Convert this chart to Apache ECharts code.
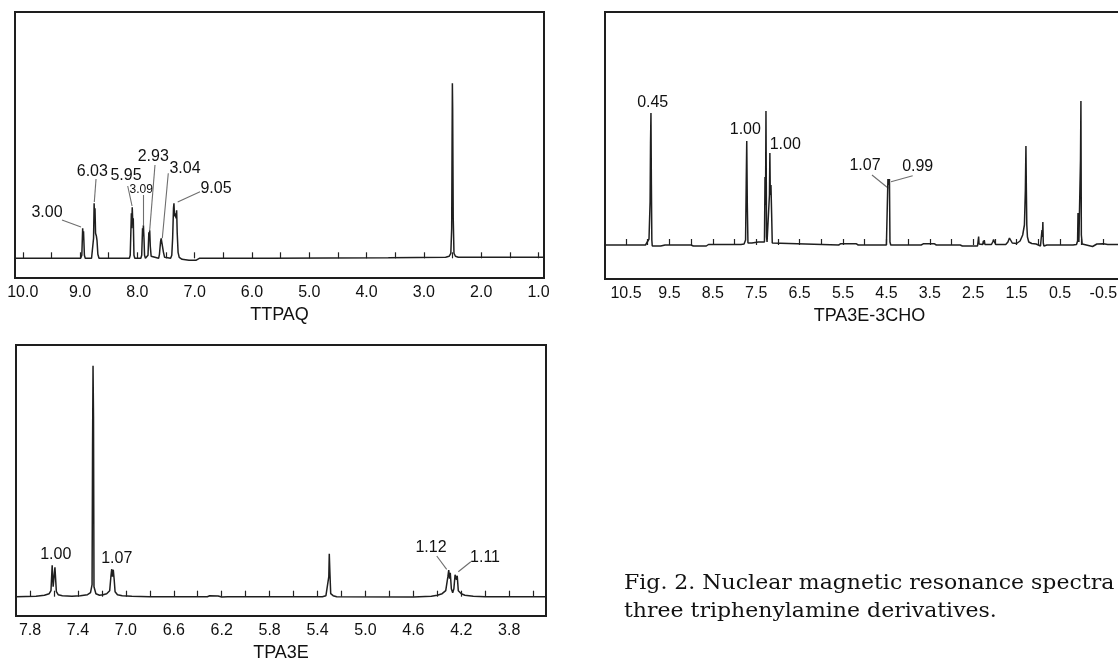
<!DOCTYPE html>
<html>
<head>
<meta charset="utf-8">
<title>NMR spectra of three triphenylamine derivatives</title>
<script src="https://cdn.jsdelivr.net/npm/echarts@6/dist/echarts.min.js"></script>
<style>
  html, body { margin: 0; padding: 0; background: #fff; }
  #chart { width: 1118px; height: 661px; }
</style>
</head>
<body>
<div id="chart"></div>
<script>
// spectra: [ppm, height above baseline]
const ttpaqSpectrum = [
  [10.14, 0], [9.20, 0], [8.99, 0], [8.97, 3], [8.955, 30], [8.948, 22], [8.94, 27], [8.925, 3], [8.91, 0],
  [8.80, 0], [8.785, 2], [8.765, 20], [8.755, 55], [8.747, 35], [8.74, 50], [8.73, 25], [8.715, 22], [8.705, 18], [8.69, 4], [8.67, 0],
  [8.40, 0], [8.14, 0], [8.125, 3], [8.105, 45], [8.098, 30], [8.09, 51], [8.08, 35], [8.072, 40], [8.06, 3], [8.045, 0],
  [7.94, 0], [7.925, 3], [7.91, 30], [7.903, 22], [7.895, 33], [7.885, 20], [7.875, 3], [7.86, 0],
  [7.83, 0], [7.815, 3], [7.80, 26], [7.792, 18], [7.785, 28], [7.775, 12], [7.76, 2], [7.745, 0],
  [7.63, 0], [7.615, 4], [7.595, 17], [7.585, 20], [7.575, 18], [7.562, 20], [7.545, 6], [7.525, 1], [7.51, 0],
  [7.42, 0], [7.40, 3], [7.385, 20], [7.37, 50], [7.362, 55], [7.352, 42], [7.34, 45], [7.325, 40], [7.315, 48],
  [7.305, 25], [7.29, 6], [7.27, 1], [7.22, -1], [7.10, -2], [6.98, -2], [6.92, 0],
  [5.70, 0], [5.68, 0.5], [3.62, 0.5], [3.60, 1], [2.62, 1], [2.56, 2], [2.53, 5], [2.515, 30], [2.508, 118],
  [2.503, 175], [2.498, 150], [2.493, 93], [2.488, 40], [2.475, 5], [2.45, 2], [2.40, 1], [0.90, 1]
];
const ttpaqLabels = [
  [9.578, 45.3, '3.00', 16], [8.787, 86.6, '6.03', 16], [8.199, 82.3, '5.95', 16], [7.932, 68.3, '3.09', 12],
  [7.723, 101.6, '2.93', 16], [7.169, 90, '3.04', 16], [6.628, 70, '9.05', 16]
];
const ttpaqLeaders = [
  [[9.316, 38.3], [8.984, 31.3]], [[8.722, 79.3], [8.752, 56.3]], [[8.169, 72.3], [8.093, 52.3]],
  [[7.897, 63.3], [7.897, 33.3]], [[7.693, 93.3], [7.785, 28.3]], [[7.461, 85], [7.565, 20]],
  [[6.907, 66.6], [7.297, 56.3]]
];
const ttpaqTicks = [1.0, 1.5, 2.0, 2.5, 3.0, 3.5, 4.0, 4.5, 5.0, 5.5, 6.0, 6.5, 7.0, 7.5, 8.0, 8.5, 9.0, 9.5, 10.0];
const ttpaqTickLabels = [1.0, 2.0, 3.0, 4.0, 5.0, 6.0, 7.0, 8.0, 9.0, 10.0];

const choSpectrum = [
  [10.99, 0], [10.05, 0], [10.02, 1], [9.97, 6], [9.945, 43], [9.935, 102], [9.925, 132], [9.915, 60], [9.905, 5],
  [9.895, -1], [9.70, -1], [9.60, 0], [9.00, 0], [8.95, -1], [8.65, -1], [8.60, 0.5], [7.85, 0.5], [7.78, 1],
  [7.745, 5], [7.73, 62], [7.718, 104], [7.705, 40], [7.69, 2], [7.60, 2], [7.45, 3], [7.31, 3], [7.297, 68],
  [7.285, 40], [7.275, 134], [7.262, 8], [7.25, 3], [7.21, 3], [7.195, 50], [7.185, 92], [7.175, 50], [7.16, 60],
  [7.145, 32], [7.13, 2], [7.10, 0], [5.60, 0], [5.55, 1.3], [5.20, 1.3], [5.15, 0], [4.50, 0], [4.475, 2],
  [4.465, 66], [4.45, 60], [4.43, 66], [4.418, 3], [4.40, 0], [3.70, 0], [3.64, 1.3], [3.40, 1.3], [3.35, 0],
  [2.80, 0], [2.75, -1], [2.40, -1], [2.385, 0], [2.375, 8.5], [2.365, 1], [2.33, 0.5], [2.28, 0.5], [2.265, 4],
  [2.255, 1], [2.245, 5], [2.23, 0.5], [2.08, 0.5], [2.05, 3], [2.03, 5.5], [2.01, 3], [1.98, 0.5], [1.75, 0.5],
  [1.70, 3], [1.665, 7], [1.64, 6], [1.60, 2], [1.50, 1.5], [1.42, 4], [1.36, 10], [1.32, 20], [1.298, 55],
  [1.285, 99], [1.275, 55], [1.265, 20], [1.25, 8], [1.22, 3], [1.15, 1.5], [1.05, 1], [1.00, 0], [0.95, -1],
  [0.925, 0], [0.915, 15], [0.905, 8], [0.895, 23], [0.885, 2], [0.87, -1], [0.80, 0], [0.20, 0], [0.12, 0.5],
  [0.095, 4], [0.085, 32], [0.075, 25], [0.065, 3], [0.04, 2], [0.028, 85], [0.018, 144], [0.008, 10],
  [-0.01, 1], [-0.05, -1], [-0.25, -1.5], [-0.35, 1], [-0.50, 1.3], [-0.60, 0.5], [-1.21, 0.5]
];
const choLabels = [
  [9.885, 142.3, '0.45', 16], [7.751, 115, '1.00', 16], [6.83, 100.7, '1.00', 16],
  [4.993, 79, '1.07', 16], [3.779, 78.3, '0.99', 16]
];
const choLeaders = [
  [[4.832, 70], [4.456, 56.7]], [[3.894, 69.3], [4.394, 63.3]]
];
const choTicks = [-1.0, -0.5, 0.0, 0.5, 1.0, 1.5, 2.0, 2.5, 3.0, 3.5, 4.0, 4.5, 5.0, 5.5, 6.0, 6.5, 7.0, 7.5, 8.0, 8.5, 9.0, 9.5, 10.0, 10.5];
const choTickLabels = [-0.5, 0.5, 1.5, 2.5, 3.5, 4.5, 5.5, 6.5, 7.5, 8.5, 9.5, 10.5];

const tpa3eSpectrum = [
  [7.92, 0], [7.75, 0.5], [7.68, 1.5], [7.64, 3], [7.625, 6], [7.615, 31.5], [7.607, 10], [7.60, 12],
  [7.592, 29.5], [7.58, 5], [7.565, 2], [7.53, 1], [7.45, 0.5], [7.38, 1], [7.32, 2], [7.295, 4], [7.282, 12],
  [7.278, 150], [7.274, 231], [7.27, 180], [7.266, 10], [7.25, 3], [7.22, 1.5], [7.19, 2], [7.16, 3],
  [7.135, 6], [7.125, 20], [7.118, 27.5], [7.112, 20], [7.105, 27], [7.098, 18], [7.09, 5], [7.07, 2],
  [7.03, 1], [6.95, 0.5], [6.80, 0], [6.32, 0], [6.30, 1], [6.23, 0.7], [6.20, -0.3], [6.15, 0], [5.36, 0],
  [5.33, 1], [5.315, 3], [5.306, 20], [5.302, 43], [5.297, 25], [5.29, 3], [5.27, 1], [5.24, 0], [4.60, -0.3],
  [4.45, 0.5], [4.40, 1.5], [4.36, 3], [4.33, 6], [4.312, 20], [4.305, 26.7], [4.298, 18], [4.292, 24],
  [4.283, 8], [4.272, 4], [4.262, 8], [4.252, 22], [4.246, 24], [4.24, 17], [4.234, 21], [4.225, 6],
  [4.20, 3], [4.17, 1.5], [4.10, 0.5], [4.00, 0], [3.49, 0]
];
const tpa3eLabels = [
  [7.585, 42.4, '1.00', 16], [7.076, 38.4, '1.07', 16], [4.453, 49.4, '1.12', 16], [4.002, 39, '1.11', 16]
];
const tpa3eLeaders = [
  [[4.405, 40.7], [4.322, 27.4]], [[4.121, 35], [4.225, 25]]
];
const tpa3eTicks = [3.6, 3.8, 4.0, 4.2, 4.4, 4.6, 4.8, 5.0, 5.2, 5.4, 5.6, 5.8, 6.0, 6.2, 6.4, 6.6, 6.8, 7.0, 7.2, 7.4, 7.6, 7.8];
const tpa3eTickLabels = [3.8, 4.2, 4.6, 5.0, 5.4, 5.8, 6.2, 6.6, 7.0, 7.4, 7.8];

const names = ['TTPAQ', 'TPA3E-3CHO', 'TPA3E'];
const captionLines = ['Fig. 2. Nuclear magnetic resonance spectra', 'three triphenylamine derivatives.'];

const FONT = '"Liberation Sans", Arial, sans-serif';

const panels = [
  { spec: ttpaqSpectrum, labels: ttpaqLabels, leaders: ttpaqLeaders, ticks: ttpaqTicks, tickLabels: ttpaqTickLabels,
    grid: { left: 15, top: 12, width: 529, height: 266 }, x: [0.904, 10.136], y: [-19.7, 246.3] },
  { spec: choSpectrum, labels: choLabels, leaders: choLeaders, ticks: choTicks, tickLabels: choTickLabels,
    grid: { left: 605, top: 12, width: 529, height: 267 }, x: [-1.205, 10.984], y: [-34, 233] },
  { spec: tpa3eSpectrum, labels: tpa3eLabels, leaders: tpa3eLeaders, ticks: tpa3eTicks, tickLabels: tpa3eTickLabels,
    grid: { left: 16, top: 345, width: 530, height: 271 }, x: [3.493, 7.917], y: [-19.3, 251.7] }
];

const grids = [], xAxes = [], yAxes = [], series = [];

panels.forEach((p, i) => {
  grids.push(Object.assign({
    show: true,
    borderColor: '#1e1e1e',
    borderWidth: 2,
    backgroundColor: 'transparent',
    containLabel: false,
    outerBoundsMode: 'none'
  }, p.grid));

  xAxes.push({
    type: 'value',
    gridIndex: i,
    inverse: true,
    min: p.x[0],
    max: p.x[1],
    name: names[i],
    nameLocation: 'middle',
    nameGap: 37,
    nameTextStyle: { fontFamily: FONT, fontSize: 18, color: '#111', verticalAlign: 'middle' },
    axisLine: { show: false },
    splitLine: { show: false },
    axisTick: {
      show: true,
      inside: true,
      length: 6,
      customValues: p.ticks,
      lineStyle: { color: '#222', width: 1.2 }
    },
    axisLabel: {
      show: true,
      customValues: p.tickLabels,
      margin: 7,
      fontFamily: FONT,
      fontSize: 16,
      color: '#111',
      formatter: v => v.toFixed(1)
    }
  });

  yAxes.push({
    type: 'value',
    gridIndex: i,
    min: p.y[0],
    max: p.y[1],
    show: false
  });

  series.push({
    type: 'line',
    xAxisIndex: i,
    yAxisIndex: i,
    data: p.spec,
    showSymbol: false,
    symbol: 'none',
    clip: true,
    lineStyle: { color: '#1f1f1f', width: 1.5 }
  });

  series.push({
    type: 'lines',
    coordinateSystem: 'cartesian2d',
    xAxisIndex: i,
    yAxisIndex: i,
    data: p.leaders.map(c => ({ coords: c })),
    lineStyle: { color: '#6e6e6e', width: 1.1, opacity: 1 },
    silent: true
  });

  series.push({
    type: 'scatter',
    xAxisIndex: i,
    yAxisIndex: i,
    symbolSize: 0,
    silent: true,
    itemStyle: { opacity: 1 },
    data: p.labels.map(l => ({
      value: [l[0], l[1]],
      name: l[2],
      label: { fontSize: l[3] }
    })),
    label: {
      show: true,
      position: [0, 0],
      align: 'center',
      verticalAlign: 'middle',
      formatter: '{b}',
      fontFamily: FONT,
      color: '#111',
      opacity: 1,
      textBorderWidth: 0
    },
    emphasis: { disabled: true }
  });
});

const chart = echarts.init(document.getElementById('chart'), null, { renderer: 'canvas' });
chart.setOption({
  animation: false,
  backgroundColor: '#fff',
  grid: grids,
  xAxis: xAxes,
  yAxis: yAxes,
  series: series,
  graphic: captionLines.map((t, k) => ({
    type: 'text',
    x: 624,
    y: 584 + k * 28,
    scaleX: 1.1,
    silent: true,
    style: {
      text: t,
      font: '20px "DejaVu Serif", serif',
      fill: '#111',
      verticalAlign: 'middle'
    }
  }))
});
</script>
</body>
</html>
